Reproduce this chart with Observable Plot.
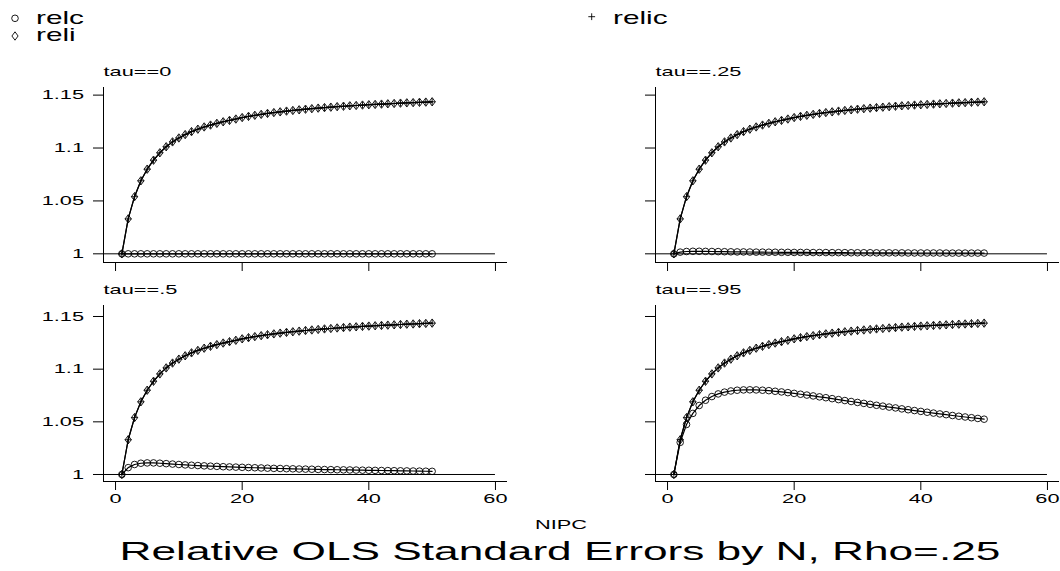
<!DOCTYPE html>
<html>
<head>
<meta charset="utf-8">
<script src="https://cdn.jsdelivr.net/npm/d3@7"></script>
<script src="https://cdn.jsdelivr.net/npm/@observablehq/plot@0.6"></script>
<style>
  html, body { margin: 0; padding: 0; background: #fff; }
  #page { position: relative; width: 1060px; height: 571px; overflow: hidden;
          font-family: "Liberation Sans", Arial, Helvetica, sans-serif; color: #000; }
  .panel { position: absolute; }
  .panel svg { overflow: visible; }
  .wide { position: absolute; white-space: nowrap; text-align: center;
          transform: scaleX(1.7); transform-origin: 50% 50%; }
</style>
</head>
<body>
<div id="page"></div>
<script>
// Number of individuals per cluster (x values)
const nipc = [1,2,3,4,5,6,7,8,9,10,11,12,13,14,15,16,17,18,19,20,
              21,22,23,24,25,26,27,28,29,30,31,32,33,34,35,36,37,38,39,40,
              41,42,43,44,45,46,47,48,49,50];

// Relative standard error, individual-level regressor (same in every panel)
const reli = [1.0000,1.0330,1.0540,1.0690,1.0800,1.0885,1.0955,1.1012,1.1058,1.1095,
              1.1127,1.1155,1.1178,1.1199,1.1217,1.1233,1.1248,1.1261,1.1274,1.1288,
              1.1299,1.1309,1.1318,1.1327,1.1335,1.1342,1.1349,1.1355,1.1361,1.1367,
              1.1372,1.1377,1.1382,1.1386,1.1391,1.1395,1.1399,1.1402,1.1406,1.1409,
              1.1412,1.1415,1.1418,1.1421,1.1424,1.1427,1.1429,1.1432,1.1434,1.1437];

// Relative standard error, interaction regressor
const relic = [1.0000,1.0330,1.0540,1.0690,1.0800,1.0885,1.0955,1.1012,1.1058,1.1095,
               1.1127,1.1155,1.1178,1.1199,1.1217,1.1233,1.1248,1.1261,1.1274,1.1288,
               1.1299,1.1309,1.1318,1.1327,1.1335,1.1342,1.1349,1.1355,1.1361,1.1367,
               1.1372,1.1377,1.1382,1.1386,1.1391,1.1395,1.1399,1.1402,1.1406,1.1409,
               1.1412,1.1415,1.1418,1.1421,1.1424,1.1427,1.1429,1.1432,1.1434,1.1437];

// Relative standard error, cluster-level regressor, one series per tau
const relcTau0 = [1,1,1,1,1,1,1,1,1,1, 1,1,1,1,1,1,1,1,1,1,
                  1,1,1,1,1,1,1,1,1,1, 1,1,1,1,1,1,1,1,1,1,
                  1,1,1,1,1,1,1,1,1,1];
const relcTau25 = [1.0000,1.0016,1.0022,1.0024,1.0024,1.0023,1.0022,1.0021,1.0020,1.0019,
                   1.0018,1.0018,1.0017,1.0016,1.0016,1.0015,1.0015,1.0014,1.0014,1.0013,
                   1.0013,1.0013,1.0012,1.0012,1.0012,1.0011,1.0011,1.0011,1.0010,1.0010,
                   1.0010,1.0010,1.0009,1.0009,1.0009,1.0009,1.0009,1.0008,1.0008,1.0008,
                   1.0008,1.0008,1.0008,1.0007,1.0007,1.0007,1.0007,1.0007,1.0007,1.0007];
const relcTau5 = [1.0000,1.0065,1.0095,1.0107,1.0110,1.0110,1.0107,1.0103,1.0099,1.0095,
                  1.0091,1.0088,1.0085,1.0082,1.0079,1.0077,1.0074,1.0072,1.0070,1.0068,
                  1.0066,1.0064,1.0062,1.0060,1.0058,1.0057,1.0055,1.0054,1.0052,1.0051,
                  1.0050,1.0048,1.0047,1.0046,1.0045,1.0044,1.0043,1.0042,1.0041,1.0040,
                  1.0039,1.0038,1.0037,1.0036,1.0035,1.0034,1.0033,1.0032,1.0031,1.0030];
const relcTau95 = [1.0000,1.0305,1.0475,1.0580,1.0655,1.0705,1.0740,1.0765,1.0782,1.0793,
                   1.0800,1.0803,1.0804,1.0803,1.0800,1.0796,1.0790,1.0784,1.0777,1.0770,
                   1.0762,1.0754,1.0746,1.0737,1.0729,1.0720,1.0711,1.0702,1.0693,1.0684,
                   1.0675,1.0666,1.0657,1.0649,1.0640,1.0632,1.0623,1.0615,1.0607,1.0599,
                   1.0591,1.0583,1.0575,1.0568,1.0560,1.0553,1.0546,1.0539,1.0532,1.0525];

// Panel labels, series names and axis ticks
const panelLabels = ["tau==0", "tau==.25", "tau==.5", "tau==.95"];
const seriesNames = ["relc", "reli", "relic"];
const xTicks = [0, 20, 40, 60];
const yTicks = [1, 1.05, 1.1, 1.15];
const xTitle = "NIPC";
const chartTitle = "Relative OLS Standard Errors by N, Rho=.25";

const relcByPanel = [relcTau0, relcTau25, relcTau5, relcTau95];

const FONT = '"Liberation Sans", Arial, Helvetica, sans-serif';
const STRETCH = 1.7; // lettering is drawn horizontally widened

// Hollow marker shapes drawn at a fixed pixel size
const circleSym = { draw(ctx) { const r = 3.3; ctx.moveTo(r, 0); ctx.arc(0, 0, r, 0, 2 * Math.PI); } };
const diamondSym = { draw(ctx) { const w = 3.1, h = 4.2; ctx.moveTo(0, -h); ctx.lineTo(w, 0); ctx.lineTo(0, h); ctx.lineTo(-w, 0); ctx.closePath(); } };
const plusSym = { draw(ctx) { const a = 3.4; ctx.moveTo(-a, 0); ctx.lineTo(a, 0); ctx.moveTo(0, -a); ctx.lineTo(0, a); } };
const symbolOf = { relc: circleSym, reli: diamondSym, relic: plusSym };

// Widen every text element about its own anchor point
function widen(root) {
  root.querySelectorAll("text").forEach(t => {
    const x = +(t.getAttribute("x") || 0);
    const prev = t.getAttribute("transform") || "";
    t.setAttribute("transform", `${prev} translate(${x},0) scale(${STRETCH},1) translate(${-x},0)`);
  });
}

const page = document.getElementById("page");

// Legend across the top
const legend = d3.select(page).append("svg")
  .attr("width", 1060).attr("height", 48)
  .style("position", "absolute").style("left", "0px").style("top", "0px");
const legendPlaces = [
  { mx: 15, my: 18.3, tx: 36, ty: 24 },
  { mx: 15, my: 36, tx: 36, ty: 41.5 },
  { mx: 591.7, my: 16.7, tx: 613, ty: 24 }
];
seriesNames.forEach((name, i) => {
  const p = legendPlaces[i];
  const path = d3.path();
  symbolOf[name].draw(path);
  legend.append("path").attr("d", path.toString())
    .attr("transform", `translate(${p.mx},${p.my})`)
    .attr("fill", "none").attr("stroke", "#000").attr("stroke-width", 0.9);
  legend.append("text").attr("x", p.tx).attr("y", p.ty)
    .attr("font-family", FONT).attr("font-size", 17.5).attr("fill", "#000")
    .text(name);
});
widen(legend.node());

// Four panels in a 2 x 2 grid
const layout = [
  { left: 0,   top: 50,  width: 530, mr: 23, mt: 37, mb: 14, showX: false, showY: true,  yDomain: [0.9918, 1.1572] },
  { left: 552, top: 50,  width: 508, mr: 1,  mt: 37, mb: 14, showX: false, showY: false, yDomain: [0.9918, 1.1572] },
  { left: 0,   top: 270, width: 530, mr: 23, mt: 35, mb: 30, showX: true,  showY: true,  yDomain: [0.99335, 1.16044] },
  { left: 552, top: 270, width: 508, mr: 1,  mt: 35, mb: 30, showX: true,  showY: false, yDomain: [0.99335, 1.16044] }
];
const xDomain = [-1.9, 61.9];
const frameHeight = [175, 175, 176, 176];

layout.forEach((L, k) => {
  const relc = relcByPanel[k];
  const rows = [];
  nipc.forEach((n, i) => {
    rows.push({ n, v: relc[i], s: "relc" });
    rows.push({ n, v: reli[i], s: "reli" });
    rows.push({ n, v: relic[i], s: "relic" });
  });
  const plot = Plot.plot({
    width: L.width,
    height: L.mt + frameHeight[k] + L.mb,
    marginLeft: 103, marginRight: L.mr, marginTop: L.mt, marginBottom: L.mb,
    x: { domain: xDomain },
    y: { domain: L.yDomain },
    style: { fontFamily: FONT, fontSize: "12.8px", color: "#000", background: "none" },
    marks: [
      Plot.ruleY([1], { x1: xDomain[0], x2: 60, stroke: "#000", strokeWidth: 1 }),
      Plot.ruleX([xDomain[0]], { stroke: "#000", strokeWidth: 1 }),
      Plot.ruleY([L.yDomain[0]], { stroke: "#000", strokeWidth: 1 }),
      Plot.axisY(yTicks, { tickSize: 10, tickPadding: 9.5, label: null, stroke: "#000",
                           tickFormat: L.showY ? d => String(d) : () => "" }),
      Plot.axisX(xTicks, { tickSize: 9, tickPadding: 3, label: null, stroke: "#000",
                           tickFormat: L.showX ? d => String(d) : () => "" }),
      Plot.line(rows, { x: "n", y: "v", z: "s", stroke: "#000", strokeWidth: 1.2 }),
      Plot.dot(rows.filter(d => d.s === "relc"), { x: "n", y: "v", symbol: circleSym, fill: "none", stroke: "#000", strokeWidth: 0.9 }),
      Plot.dot(rows.filter(d => d.s === "reli"), { x: "n", y: "v", symbol: diamondSym, fill: "none", stroke: "#000", strokeWidth: 0.9 }),
      Plot.dot(rows.filter(d => d.s === "relic"), { x: "n", y: "v", symbol: plusSym, fill: "none", stroke: "#000", strokeWidth: 0.9 }),
      Plot.text([panelLabels[k]], { text: d => d, frameAnchor: "top-left", textAnchor: "start",
                                    lineAnchor: "middle", dy: -16, fontSize: 12.8, fill: "#000" })
    ]
  });
  widen(plot);
  const holder = document.createElement("div");
  holder.className = "panel";
  holder.style.left = L.left + "px";
  holder.style.top = L.top + "px";
  holder.appendChild(plot);
  page.appendChild(holder);
});

// Axis title and chart title beneath the grid
const xt = document.createElement("div");
xt.className = "wide";
xt.style.cssText += "left:461px;width:200px;top:517px;font-size:12.8px;line-height:15px;";
xt.textContent = xTitle;
page.appendChild(xt);

const tt = document.createElement("div");
tt.className = "wide";
tt.style.cssText += "left:260px;width:600px;top:536px;font-size:26px;line-height:30px;";
tt.textContent = chartTitle;
page.appendChild(tt);
</script>
</body>
</html>
